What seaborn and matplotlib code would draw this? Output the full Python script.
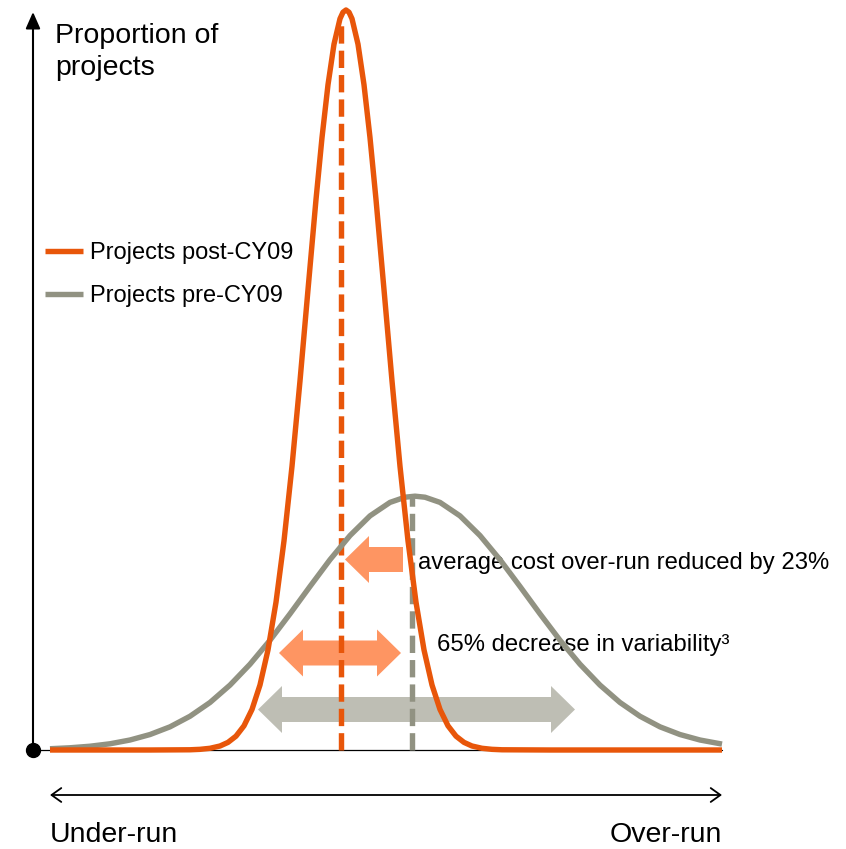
import matplotlib
matplotlib.use("Agg")
import numpy as np
import pandas as pd
import seaborn as sns
import matplotlib.pyplot as plt
from matplotlib.patches import Polygon

# ---------------- data ----------------
# x: position along the cost under-run / over-run axis (schematic units)
# y: proportion of projects, relative to the post-CY09 peak
post_x = [50, 150, 190, 200, 210, 220, 228, 236, 244, 252, 260, 268, 276, 284, 292, 300,
          308, 316, 322, 328, 334, 340, 343, 346, 349, 352, 358, 364, 370, 376, 384, 392,
          400, 408, 416, 424, 432, 440, 448, 456, 464, 472, 482, 492, 502, 550, 722]
post_y = [0, 0, 0.0003, 0.0009, 0.0023, 0.0054, 0.0103, 0.0187, 0.0327, 0.0548, 0.0879,
          0.1353, 0.1997, 0.2826, 0.3834, 0.4988, 0.6221, 0.7439, 0.8275, 0.8990, 0.9538,
          0.9882, 0.9970, 1.0, 0.9970, 0.9882, 0.9538, 0.8990, 0.8275, 0.7439, 0.6221,
          0.4988, 0.3834, 0.2826, 0.1997, 0.1353, 0.0879, 0.0548, 0.0327, 0.0187, 0.0103,
          0.0054, 0.0023, 0.0009, 0.0003, 0, 0]

pre_x = [50, 70, 90, 110, 130, 150, 170, 190, 210, 230, 250, 270, 290, 310, 330, 350,
         370, 390, 405, 415, 425, 440, 460, 480, 500, 520, 540, 560, 580, 600, 620, 640,
         660, 680, 700, 722]
pre_y = [0.0017, 0.0030, 0.0051, 0.0084, 0.0135, 0.0209, 0.0313, 0.0456, 0.0642, 0.0877,
         0.1159, 0.1483, 0.1840, 0.2210, 0.2572, 0.2898, 0.3164, 0.3346, 0.3416, 0.343,
         0.3416, 0.3346, 0.3164, 0.2898, 0.2572, 0.2210, 0.1840, 0.1483, 0.1159, 0.0877,
         0.0642, 0.0456, 0.0313, 0.0209, 0.0135, 0.0080]

series_labels = ["Projects post-CY09", "Projects pre-CY09"]
mean_post = 341
mean_pre = 412
peak_post = 0.99
peak_pre = 0.342

y_title = "Proportion of\nprojects"
x_left_label = "Under-run"
x_right_label = "Over-run"
note_mean = "average cost over-run reduced by 23%"
note_var = "65% decrease in variability\u00b3"

# ---------------- style ----------------
ORANGE = "#E8560A"
GREY = "#919282"
ARROW_OR = "#FE9562"
ARROW_GR = "#BEBEB4"
PEAK_PX = 740  # pixel height of the proportion scale
LW = 3.9

sns.set_theme(style="white")
plt.rcParams['font.family'] = ['Liberation Sans', 'DejaVu Sans']
plt.rcParams['text.color'] = 'black'

fig = plt.figure(figsize=(8.46, 8.49), dpi=100)
ax = fig.add_axes([0, 0, 1, 1])
ax.set_xlim(0, 846)
ax.set_ylim(-99, 750)
ax.axis("off")

df_post = pd.DataFrame({"x": post_x, "y": np.array(post_y) * PEAK_PX})
df_pre = pd.DataFrame({"x": pre_x, "y": np.array(pre_y) * PEAK_PX})

# baseline & axes
ax.plot([33, 722], [0, 0], color="black", lw=0.9, zorder=1)
ax.annotate("", xy=(33, 738), xytext=(33, 0),
            arrowprops=dict(arrowstyle="-|>,head_length=0.5,head_width=0.22",
                            lw=1.5, color="black", mutation_scale=20,
                            shrinkA=0, shrinkB=0), zorder=2)
ax.plot([33], [0], marker="o", ms=10, color="black", zorder=6)
ax.annotate("", xy=(722, -45), xytext=(50, -45),
            arrowprops=dict(arrowstyle="<->,head_length=0.35,head_width=0.25",
                            lw=1.3, color="black", mutation_scale=20,
                            shrinkA=0, shrinkB=0))


# block arrows
def block_arrow(x_from, x_to, yc, color, double=False, half_shaft=12.5, half_head=23.5, head_len=24):
    d = 1 if x_to > x_from else -1
    tip = x_to
    base = x_to - d * head_len
    if double:
        tail = x_from
        tbase = x_from + d * head_len
        pts = [(tail, yc), (tbase, yc + half_head), (tbase, yc + half_shaft),
               (base, yc + half_shaft), (base, yc + half_head), (tip, yc),
               (base, yc - half_head), (base, yc - half_shaft), (tbase, yc - half_shaft),
               (tbase, yc - half_head)]
    else:
        tail = x_from
        pts = [(tail, yc + half_shaft), (base, yc + half_shaft), (base, yc + half_head),
               (tip, yc), (base, yc - half_head), (base, yc - half_shaft),
               (tail, yc - half_shaft)]
    ax.add_patch(Polygon(pts, closed=True, facecolor=color, edgecolor="none", zorder=3))


block_arrow(403, 345, 190.5, ARROW_OR)
block_arrow(279, 401, 97, ARROW_OR, double=True)
block_arrow(258, 575, 40.5, ARROW_GR, double=True)

# dashed mean lines
ax.plot([mean_post, mean_post], [0, peak_post * PEAK_PX - 8], color=ORANGE, lw=LW,
        dashes=(3.2, 1.3), dash_capstyle="butt", zorder=4)
ax.plot([mean_pre, mean_pre], [0, peak_pre * PEAK_PX], color=GREY, lw=LW,
        dashes=(3.2, 1.3), dash_capstyle="butt", zorder=4)

# curves
sns.lineplot(data=df_pre, x="x", y="y", ax=ax, color=GREY, lw=LW, sort=False,
             estimator=None, label=series_labels[1], zorder=4,
             solid_joinstyle="round", solid_capstyle="butt")
sns.lineplot(data=df_post, x="x", y="y", ax=ax, color=ORANGE, lw=LW, sort=False,
             estimator=None, label=series_labels[0], zorder=5,
             solid_joinstyle="round", solid_capstyle="butt")

handles, labels = ax.get_legend_handles_labels()
order = [labels.index(series_labels[0]), labels.index(series_labels[1])]
ax.legend([handles[i] for i in order], [labels[i] for i in order],
          loc="upper left", bbox_to_anchor=(45 / 846, 1 - 242 / 849),
          bbox_transform=fig.transFigure, frameon=False, fontsize=17,
          handlelength=1.6, handletextpad=0.3, labelspacing=0.9,
          borderpad=0, borderaxespad=0, labelcolor="black")
ax.set_xlabel("")
ax.set_ylabel("")

# texts
ax.text(55, 727, y_title, fontsize=20.5, va="top", ha="left", linespacing=1.3)
ax.text(418, 181, note_mean, fontsize=17.2, va="baseline", ha="left")
ax.text(437, 99, note_var, fontsize=17.2, va="baseline", ha="left")
ax.text(50, -85, x_left_label, fontsize=20.5, va="center", ha="left")
ax.text(722, -85, x_right_label, fontsize=20.5, va="center", ha="right")

fig.savefig("out.png", dpi=100)
